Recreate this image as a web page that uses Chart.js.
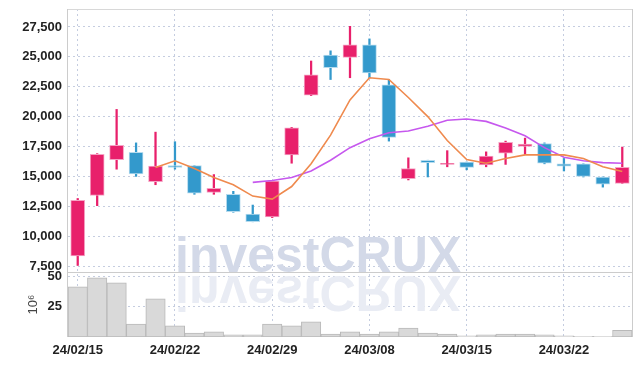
<!DOCTYPE html>
<html><head><meta charset="utf-8">
<script src="https://cdn.jsdelivr.net/npm/chart.js@4.4.1/dist/chart.umd.min.js"></script>
<style>html,body{margin:0;padding:0;background:#fff}#wrap{width:642px;height:366px}</style>
</head><body><div id="wrap"><canvas id="c" width="642" height="366"></canvas></div>
<script>
const dates = ['24/02/15','24/02/16','24/02/19','24/02/20','24/02/21','24/02/22','24/02/23','24/02/26','24/02/27','24/02/28','24/02/29','24/03/04','24/03/05','24/03/06','24/03/07','24/03/08','24/03/11','24/03/12','24/03/13','24/03/14','24/03/15','24/03/18','24/03/19','24/03/20','24/03/21','24/03/22','24/03/25','24/03/26','24/03/27'];
const openP  = [8350,13400,16400,17000,14550,15900,15900,13650,13500,11850,11600,16800,21800,25150,24950,26000,22650,14800,16350,16000,16200,15950,16950,17500,17750,16050,16050,14950,14400];
const closeP = [13000,16850,17600,15200,15850,15750,13600,14000,12050,11200,14600,19050,23500,24100,26000,23650,18250,15650,16150,16100,15750,16700,17850,17700,16100,15850,15000,14350,15750];
const highP  = [13150,16900,20600,17800,18700,17900,15900,15150,13750,12600,14650,19100,24650,25500,27550,26500,23100,16550,16350,17150,16200,17050,17950,18200,17800,16500,16050,14950,17450];
const lowP   = [7550,12550,15600,15000,14300,15600,13500,13500,12000,11200,11550,16100,21750,23100,23250,23250,17950,14700,14950,15800,15550,15800,16000,16850,16050,15450,14950,14100,14400];
const volume = [41.7,49.2,45,10.8,31.7,9.2,3.3,4.2,1.7,1.7,10.8,9.2,12.5,2.5,4.2,2.5,4.2,7.5,3.3,2.5,1,1.7,2.5,2.5,1.7,1,0.5,0.5,5.5];
const ma5  = [null,null,null,null,15750,16300,15650,14900,14300,13350,13100,14150,16050,18450,21400,23250,23100,21600,20000,18000,16400,16100,16500,16800,16800,16800,16500,15800,15400];
const ma10 = [null,null,null,null,null,null,null,null,null,14500,14650,14900,15450,16350,17400,18150,18650,18800,19200,19700,19800,19600,19050,18400,17400,16600,16300,16150,16100];
const priceTicks = [7500,10000,12500,15000,17500,20000,22500,25000,27500];
const volTicks = [25,50];

const UP='#e8206b', UPB='#f5a3c4', DN='#3399cc', DNB='#b5dbee';
const isUp = openP.map((o,i)=>closeP[i]>=o);
const font = {family:'"Liberation Sans", Arial, sans-serif', size:13, weight:'bold'};
const gridDot = '#c5cde0';

const deco = {
  id:'deco',
  beforeDatasetsDraw(chart){
    const {ctx} = chart;
    const sep = chart.scales.y.bottom;
    ctx.save();
    ctx.font = 'bold 50px "Liberation Sans", Arial, sans-serif';
    ctx.textBaseline = 'alphabetic';
    ctx.fillStyle = '#d3d9e8';
    ctx.fillText('investCRUX', 175, sep);
    ctx.translate(0, sep);
    ctx.scale(1,-1);
    ctx.fillStyle = '#e9ecf4';
    ctx.fillText('investCRUX', 175, -4);
    ctx.restore();
  },
  afterDraw(chart){
    const {ctx, chartArea:a} = chart;
    const sep = chart.scales.y.bottom;
    ctx.save();
    ctx.lineWidth = 1;
    ctx.strokeStyle = '#d8d8d8';
    ctx.beginPath(); ctx.moveTo(a.left, a.top+0.5); ctx.lineTo(a.right, a.top+0.5); ctx.stroke();
    ctx.strokeStyle = '#cccccc';
    ctx.beginPath(); ctx.moveTo(a.left-0.5, a.top); ctx.lineTo(a.left-0.5, a.bottom); ctx.stroke();
    ctx.beginPath(); ctx.moveTo(a.right+0.5, a.top); ctx.lineTo(a.right+0.5, a.bottom); ctx.stroke();
    ctx.beginPath(); ctx.moveTo(a.left, Math.round(sep)+0.5); ctx.lineTo(a.right, Math.round(sep)+0.5); ctx.stroke();
    ctx.restore();
  }
};

const fitY = ax => { ax.width = 68; ax.paddingTop = 0; ax.paddingBottom = 0; };

new Chart(document.getElementById('c'), {
  type:'bar',
  data:{
    labels: dates,
    datasets:[
      {type:'line', label:'MA5', data:ma5, borderColor:'#ef8a4e', borderWidth:1.6, pointRadius:0, tension:0, yAxisID:'y', order:0},
      {type:'line', label:'MA10', data:ma10, borderColor:'#c658ee', borderWidth:1.6, pointRadius:0, tension:0, yAxisID:'y', order:0},
      {label:'body', data: openP.map((o,i)=>[o,closeP[i]]), backgroundColor: isUp.map(u=>u?UP:DN), borderColor: isUp.map(u=>u?UPB:DNB), borderWidth:1, borderSkipped:false, barThickness:14, grouped:false, yAxisID:'y', order:1},
      {label:'wick', data: lowP.map((l,i)=>[l,highP[i]]), backgroundColor: isUp.map(u=>u?UP:DN), borderWidth:0, barThickness:1.6, grouped:false, yAxisID:'y', order:2},
      {label:'vol', data: volume, backgroundColor:'#d9d9d9', borderColor:'#b9b9b9', borderWidth:1, borderSkipped:false, barPercentage:1, categoryPercentage:1, grouped:false, yAxisID:'y2', order:3}
    ]
  },
  options:{
    responsive:false, animation:false,
    layout:{padding:{top:9, right:10, left:0, bottom:0}},
    plugins:{legend:{display:false}, tooltip:{enabled:false}},
    scales:{
      x:{
        afterFit: ax => { ax.paddingLeft = 0; ax.paddingRight = 0; ax.height = 29; },
        grid:{offset:false, drawTicks:false, color:c=> (c.index%5===0)?gridDot:'rgba(0,0,0,0)', lineWidth:1},
        border:{display:false, dash:[2,3]},
        ticks:{autoSkip:false, maxRotation:0, padding:6, color:'#222', font, callback:(v,i)=> i%5===0 ? dates[i] : ''}
      },
      y2:{
        position:'left', stack:'s', stackWeight:65, min:0, max:54,
        afterBuildTicks: ax => { ax.ticks = volTicks.map(v=>({value:v})); },
        afterFit: fitY,
        grid:{drawTicks:false, color:gridDot},
        border:{display:false, dash:[2,3]},
        ticks:{autoSkip:false, padding:6, color:'#222', font},
        title:{display:true, text:'10\u2076', color:'#444', font:{family:'"Liberation Sans", sans-serif', size:13}, padding:{top:26, bottom:0}}
      },
      y:{
        position:'left', stack:'s', stackWeight:263, min:7000, max:29000,
        afterBuildTicks: ax => { ax.ticks = priceTicks.map(v=>({value:v})); },
        afterFit: fitY,
        grid:{drawTicks:false, color:gridDot},
        border:{display:false, dash:[2,3]},
        ticks:{autoSkip:false, padding:6, color:'#222', font, callback:v=>v.toLocaleString('en-US')}
      }
    }
  },
  plugins:[deco]
});
</script></body></html>
